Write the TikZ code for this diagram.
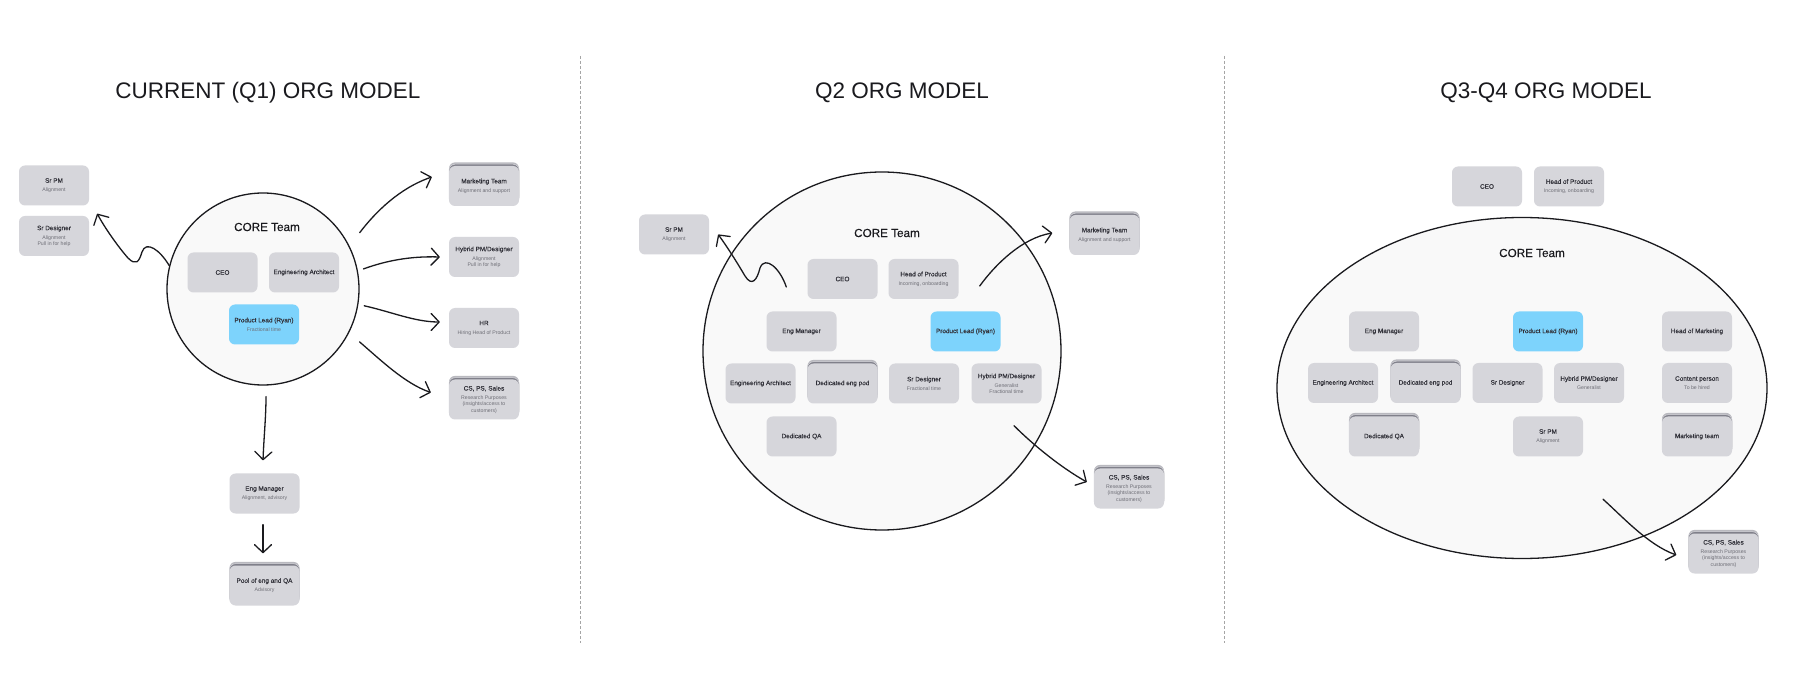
\documentclass[tikz,border=0pt]{standalone}
\usepackage{fontspec}
\setmainfont{Liberation Sans}
\usetikzlibrary{shapes.geometric,arrows.meta,shadows}
\definecolor{cardgray}{RGB}{214,214,219}
\definecolor{stackgray}{RGB}{128,128,138}
\definecolor{leadblue}{RGB}{125,211,252}
\definecolor{corefill}{RGB}{249,249,249}
\definecolor{inkdark}{RGB}{26,26,30}
\definecolor{headgray}{RGB}{50,50,58}
\definecolor{notegray}{RGB}{110,110,118}
\definecolor{sepgray}{RGB}{165,165,165}
\newcommand{\cardhead}[1]{{\fontsize{6.4}{6.4}\selectfont\addfontfeatures{FakeBold=0.35}\color{headgray}#1}}

\begin{document}
\begin{tikzpicture}[x=1pt, y=-1pt,
  card/.style={fill=cardgray, rounded corners=6pt, minimum width=70pt, minimum height=40pt, inner sep=1pt, align=center, text=notegray, font=\fontsize{5.2}{6.3}\selectfont},
  lead/.style={card, fill=leadblue},
  pile/.style={card, copy shadow={shadow xshift=0pt, shadow yshift=3.6pt, fill=stackgray!55, draw=none}, copy shadow={shadow xshift=0pt, shadow yshift=1.8pt, fill=stackgray, draw=cardgray, line width=0.5pt}},
  core/.style={draw=inkdark, fill=corefill, line width=1.3pt, inner sep=0pt},
  corelabel/.style={text=inkdark, font=\fontsize{11.7}{12}\selectfont\addfontfeatures{FakeBold=0.3}},
  paneltitle/.style={text=inkdark, font=\fontsize{22.5}{24}\selectfont},
  hand/.style={draw=inkdark, line width=1.3pt, line cap=round, line join=round, -{Straight Barb[length=8pt,width=17pt,round]}},
  divider/.style={draw=sepgray, line width=0.9pt, dash pattern=on 3pt off 2pt}]

\fill[white] (0,0) rectangle (1816,700);
\useasboundingbox (0,0) rectangle (1816,700);

% Titles and dividers
\node[paneltitle] (title1) at (268,93) {CURRENT (Q1) ORG MODEL};
\node[paneltitle] (title2) at (902,93) {Q2 ORG MODEL};
\node[paneltitle] (title3) at (1546,93) {Q3-Q4 ORG MODEL};
\draw[divider] (580,56) -- (580,643);
\draw[divider] (1224,56) -- (1224,643);

% ---------- Current (Q1) ----------
\node[core, circle, minimum size=192pt] (core1) at (263,289) {};
\node[corelabel] (corelbl1) at (267,227) {CORE Team};
\node[card] (ceo1) at (222.5,272.5) {\cardhead{CEO}};
\node[card] (arch1) at (304,272.5) {\cardhead{Engineering Architect}};
\node[lead] (lead1) at (264,324.5) {\cardhead{Product Lead (Ryan)}\\[2.6pt]Fractional time};

\node[card] (srpm1) at (54,185.5) {\cardhead{Sr PM}\\[2.6pt]Alignment};
\node[card] (srdes1) at (54,236) {\cardhead{Sr Designer}\\[2.6pt]Alignment\\Pull in for help};

\node[pile] (mkt1) at (484,186) {\cardhead{Marketing Team}\\[2.6pt]Alignment and support};
\node[card] (hyb1) at (484,257) {\cardhead{Hybrid PM/Designer}\\[2.6pt]Alignment\\Pull in for help};
\node[card] (hr1) at (484,328) {\cardhead{HR}\\[2.6pt]Hiring Head of Product};
\node[pile] (cs1) at (484,399.5) {\cardhead{CS, PS, Sales}\\[2.6pt]Research Purposes\\(insights/access to\\customers)};

\node[card] (engmgr1) at (264.5,493.5) {\cardhead{Eng Manager}\\[2.6pt]Alignment, advisory};
\node[pile] (pool1) at (264.5,585.5) {\cardhead{Pool of eng and QA}\\[2.6pt]Advisory};

\draw[hand] (core1.166) .. controls (160,250) and (146,240) .. (142,252)
  .. controls (139,262) and (136,266) .. (128,258)
  .. controls (120,249) and (106,230) .. ([xshift=8pt,yshift=-8pt]srpm1.south east);
\draw[hand] ([xshift=13pt,yshift=8pt]core1.30) .. controls +(16,-21) and +(-32,11) .. ([xshift=-17pt,yshift=9pt]mkt1.west);
\draw[hand] ([xshift=6pt]core1.12) .. controls +(22,-8) and +(-30,-1) .. ([xshift=-9pt]hyb1.west);
\draw[hand] ([xshift=6pt]core1.-10) .. controls +(27,6) and +(-25,0) .. ([xshift=-9pt,yshift=6pt]hr1.west);
\draw[hand] ([xshift=12pt,yshift=-6pt]core1.-29) .. controls +(21,18) and +(-26,-9) .. ([xshift=-18pt,yshift=7pt]cs1.west);
\draw[hand] ([xshift=3pt,yshift=-11pt]core1.south) .. controls +(0,20) and +(1,-25) .. ([xshift=-1.5pt,yshift=13pt]engmgr1.north);
\draw[hand] ([xshift=-1.5pt,yshift=-11pt]engmgr1.south) -- ([xshift=-1.5pt,yshift=12pt]pool1.north);

% ---------- Q2 ----------
\node[core, circle, minimum size=358pt] (core2) at (882,351) {};
\node[corelabel] (corelbl2) at (887,233) {CORE Team};
\node[card] (ceo2) at (842.5,279) {\cardhead{CEO}};
\node[card] (hop2) at (923.5,279) {\cardhead{Head of Product}\\[2.6pt]Incoming, onboarding};
\node[card] (engmgr2) at (801.5,331.5) {\cardhead{Eng Manager}};
\node[lead] (lead2) at (965.5,331.5) {\cardhead{Product Lead (Ryan)}};
\node[card] (arch2) at (760.5,383.5) {\cardhead{Engineering Architect}};
\node[pile] (pod2) at (842.5,383.5) {\cardhead{Dedicated eng pod}};
\node[card] (srdes2) at (924,383.5) {\cardhead{Sr Designer}\\[2.6pt]Fractional time};
\node[card] (hyb2) at (1006.5,383.5) {\cardhead{Hybrid PM/Designer}\\[2.6pt]Generalist\\Fractional time};
\node[card] (qa2) at (801.5,436.5) {\cardhead{Dedicated QA}};

\node[card] (srpm2) at (674,234.5) {\cardhead{Sr PM}\\[2.6pt]Alignment};
\node[pile] (mkt2) at (1104.5,235) {\cardhead{Marketing Team}\\[2.6pt]Alignment and support};
\node[pile] (cs2) at (1129,488.5) {\cardhead{CS, PS, Sales}\\[2.6pt]Research Purposes\\(insights/access to\\customers)};

\draw[hand] ([xshift=-21pt,yshift=-8pt]ceo2.west) .. controls (780,268) and (765,255) .. (760,268)
  .. controls (757,280) and (752,287) .. (745,276)
  .. controls (738,264) and (728,248) .. ([xshift=9pt]srpm2.east);
\draw[hand] ([xshift=21pt,yshift=-7pt]hop2.east) .. controls +(16,-22) and +(-30,5) .. ([xshift=-17pt,yshift=2pt]mkt2.west);
\draw[hand] ([xshift=7.5pt,yshift=-22pt]hyb2.south) .. controls +(20,20) and +(-25,-14) .. ([xshift=-7pt,yshift=6.5pt]cs2.west);

% ---------- Q3-Q4 ----------
\node[card] (ceo3) at (1487,186.5) {\cardhead{CEO}};
\node[card] (hop3) at (1569,186.5) {\cardhead{Head of Product}\\[2.6pt]Incoming, onboarding};

\node[core, ellipse, minimum width=490pt, minimum height=341pt] (core3) at (1522,388) {};
\node[corelabel] (corelbl3) at (1532,253) {CORE Team};
\node[card] (engmgr3) at (1384,331.5) {\cardhead{Eng Manager}};
\node[lead] (lead3) at (1548,331.5) {\cardhead{Product Lead (Ryan)}};
\node[card] (hom3) at (1697,331.5) {\cardhead{Head of Marketing}};
\node[card] (arch3) at (1343,383) {\cardhead{Engineering Architect}};
\node[pile] (pod3) at (1425.5,383) {\cardhead{Dedicated eng pod}};
\node[card] (srdes3) at (1507.5,383) {\cardhead{Sr Designer}};
\node[card] (hyb3) at (1589,383) {\cardhead{Hybrid PM/Designer}\\[2.6pt]Generalist};
\node[card] (content3) at (1697,383) {\cardhead{Content person}\\[2.6pt]To be hired};
\node[pile] (qa3) at (1384,436.5) {\cardhead{Dedicated QA}};
\node[card] (srpm3) at (1548,436.5) {\cardhead{Sr PM}\\[2.6pt]Alignment};
\node[pile] (mktteam3) at (1697,436.5) {\cardhead{Marketing team}};

\node[pile] (cs3) at (1723.5,553.5) {\cardhead{CS, PS, Sales}\\[2.6pt]Research Purposes\\(insights/access to\\customers)};

\draw[hand] ([xshift=55pt,yshift=-42.5pt]srpm3.south) .. controls +(20,18) and +(-28,-10) .. ([xshift=-12pt,yshift=-1.5pt]cs3.west);
\end{tikzpicture}
\end{document}
